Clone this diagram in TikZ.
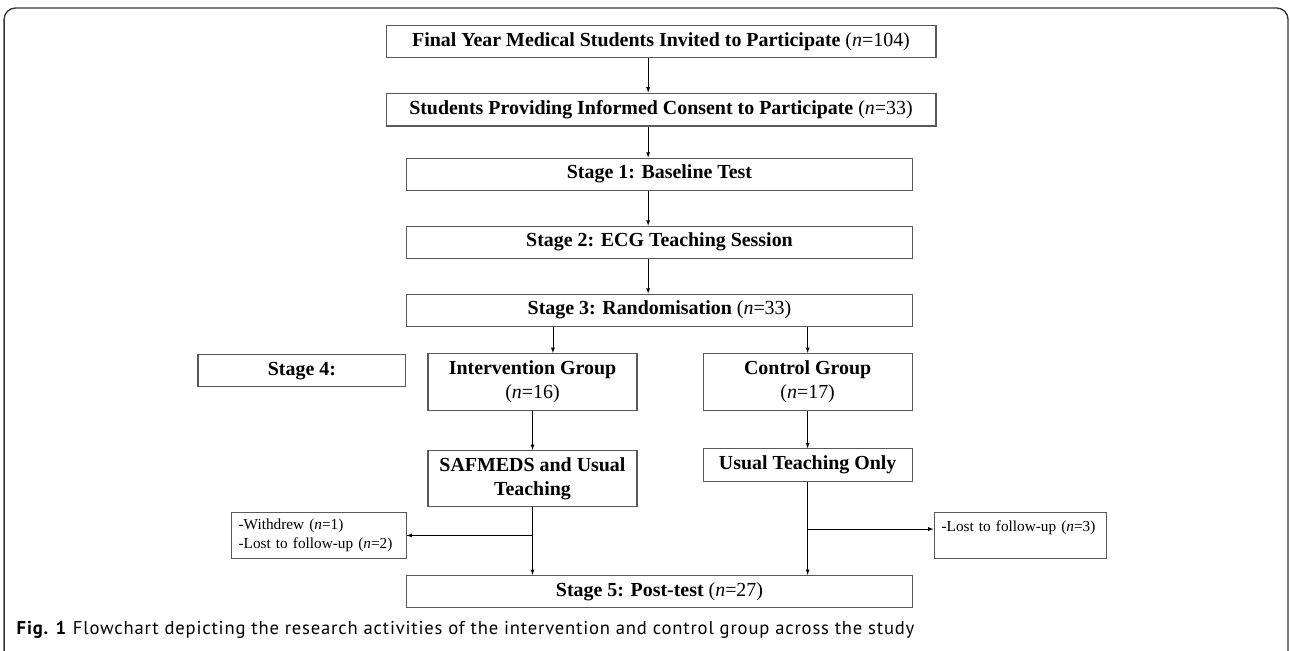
\documentclass[tikz,border=0pt]{standalone}
\usepackage{fontspec}
\setmainfont{Liberation Serif}
\newfontfamily\capfont[LetterSpace=4.5]{PT Sans}
\usepackage{tikz}
\usetikzlibrary{shapes,arrows,positioning}

\begin{document}
\begin{tikzpicture}[node distance=1.8cm, auto, >=latex]
    % Define styles
    \tikzstyle{widebox} = [rectangle, minimum width=14.55cm, minimum height=0.87cm, text centered, draw=black!65, line width=0.8pt, font=\fontsize{15}{17}\selectfont\bfseries]
    \tikzstyle{stagebox} = [rectangle, minimum width=13.41cm, minimum height=0.85cm, text centered, draw=black!65, line width=0.8pt, font=\fontsize{15}{17}\selectfont\bfseries]
    \tikzstyle{groupbox} = [rectangle, minimum width=5.53cm, minimum height=1.51cm, align=center, draw=black!65, line width=0.8pt, font=\fontsize{15}{18}\selectfont\bfseries]
    \tikzstyle{lossbox} = [rectangle, text width=4.23cm, inner xsep=0.2cm, minimum height=1.22cm, align=left, draw=black!65, line width=0.8pt, font=\fontsize{11.5}{14.5}\selectfont]

    % Frame and size
    \useasboundingbox (-17.489,-16.125) rectangle (16.642,1.098);
    \draw[black!80, line width=1pt, rounded corners=0.3cm] (-17.38,-16.4) -- (-17.38,0.886) -- (16.59,0.886) -- (16.59,-16.4);

    % Nodes
    \node[widebox] (invite) {Final Year Medical Students Invited to Participate {\mdseries(\textit{n}=104)}};
    \node[widebox, below of=invite] (consent) {Students Providing Informed Consent to Participate {\mdseries(\textit{n}=33)}};
    \node[stagebox, below of=consent, xshift=-0.04cm, yshift=0.09cm] (baseline) {Stage 1: Baseline Test};
    \node[stagebox, below of=baseline] (teaching) {Stage 2: ECG Teaching Session};
    \node[stagebox, below of=teaching] (random) {Stage 3: Randomisation {\mdseries(\textit{n}=33)}};
    \node[groupbox, below of=random, xshift=-3.36cm, yshift=-0.1cm] (intgroup) {Intervention Group\\{\mdseries(\textit{n}=16)}};
    \node[groupbox, below of=random, xshift=3.92cm, yshift=-0.1cm] (control) {Control Group\\{\mdseries(\textit{n}=17)}};
    \node[stagebox, minimum width=5.5cm, left of=intgroup, xshift=-4.3cm, yshift=0.3cm] (stagefour) {Stage 4:};
    \node[groupbox, minimum height=1.48cm, below of=intgroup, yshift=-0.75cm] (safmeds) {SAFMEDS and Usual\\Teaching};
    \node[groupbox, minimum height=0.87cm, below of=control, yshift=-0.4cm] (usual) {Usual Teaching Only};
    \node[stagebox, below of=safmeds, xshift=3.36cm, yshift=-1.19cm] (posttest) {Stage 5: Post-test {\mdseries(\textit{n}=27)}};
    \node[lossbox, below of=safmeds, xshift=-5.66cm, yshift=0.29cm] (withdrew) {-Withdrew (\textit{n}=1)\\-Lost to follow-up (\textit{n}=2)};
    \node[lossbox, text width=4.15cm, below of=usual, xshift=5.62cm, yshift=-0.07cm] (lost) {-Lost to follow-up (\textit{n}=3)\\\mbox{}};
    \node[anchor=west, font=\capfont\fontsize{14}{16}\selectfont] (caption) at (-17.17,-15.57) {\textbf{Fig. 1} Flowchart depicting the research activities of the intervention and control group across the study};

    % Connections
    \coordinate (intin) at ([xshift=0.54cm]intgroup.north);
    \coordinate (lostin) at ([yshift=0.18cm]lost.west);
    \draw[->] ([xshift=-0.34cm]invite.south) -- ([xshift=-0.34cm]consent.north);
    \draw[->] ([xshift=-0.34cm]consent.south) -- ([xshift=-0.34cm]consent.south |- baseline.north);
    \draw[->] ([xshift=-0.3cm]baseline.south) -- ([xshift=-0.3cm]teaching.north);
    \draw[->] ([xshift=-0.3cm]teaching.south) -- ([xshift=-0.3cm]random.north);
    \draw[->] (intin |- random.south) -- (intin);
    \draw[->] (control.north |- random.south) -- (control.north);
    \draw[->] (intgroup) -- (safmeds);
    \draw[->] (control) -- (usual);
    \draw[->] (safmeds.south) -- (safmeds.south |- posttest.north);
    \draw[->] (usual.south) -- (usual.south |- posttest.north);
    \draw[->] (safmeds.south |- withdrew.east) -- (withdrew.east);
    \draw[->] (usual.south |- lostin) -- (lostin);
\end{tikzpicture}
\end{document}
